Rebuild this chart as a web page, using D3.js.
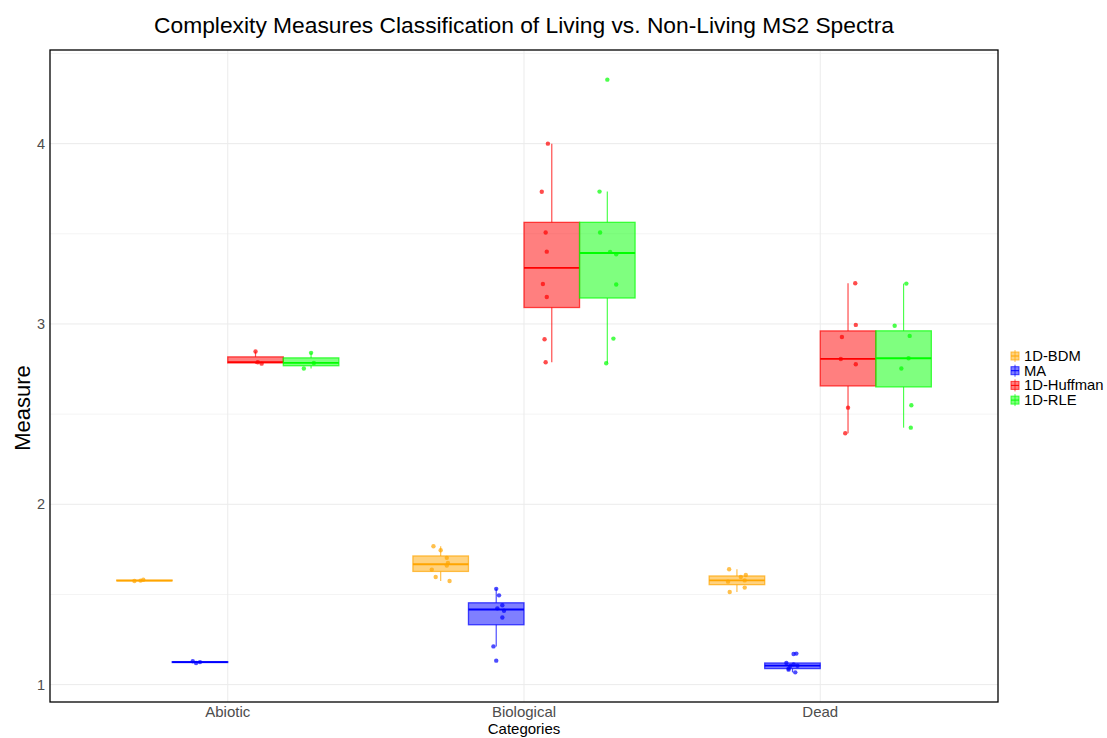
<!DOCTYPE html>
<html>
<head>
<meta charset="utf-8">
<script src="https://cdnjs.cloudflare.com/ajax/libs/d3/7.8.5/d3.min.js"></script>
<style>
	body { margin: 0; background: #fff; }
	svg { font-family: 'Liberation Sans', Arial, sans-serif; }
</style>
</head>
<body>
<script>
// DATA
const categories = ['Abiotic', 'Biological', 'Dead'];
const measures = ['1D-BDM', 'MA', '1D-Huffman', '1D-RLE'];
const colors = ['#FFA500', '#0000FF', '#FF0000', '#00FF00'];
const yTicks = [1, 2, 3, 4];

// one inner array per category
const bdmValues = [
	[1.575, 1.577, 1.582],
	[1.767, 1.745, 1.703, 1.675, 1.66, 1.638, 1.597, 1.575],
	[1.64, 1.608, 1.597, 1.578, 1.571, 1.538, 1.514]
];
const maValues = [
	[1.13, 1.12, 1.125],
	[1.531, 1.495, 1.44, 1.423, 1.41, 1.372, 1.212, 1.133],
	[1.172, 1.17, 1.12, 1.112, 1.105, 1.103, 1.089, 1.083, 1.068]
];
const huffmanValues = [
	[2.847, 2.788, 2.78],
	[4.0, 3.733, 3.507, 3.401, 3.222, 3.15, 2.915, 2.788],
	[3.226, 2.995, 2.928, 2.806, 2.777, 2.536, 2.394]
];
const rleValues = [
	[2.84, 2.784, 2.753],
	[4.355, 3.734, 3.507, 3.4, 3.387, 3.219, 2.919, 2.782],
	[3.224, 2.99, 2.934, 2.81, 2.753, 2.549, 2.425]
];

// jitter of each point, as a fraction of box width
const bdmJitter = [
	[-0.18, -0.07, -0.02],
	[-0.13, 0, 0.11, 0.13, 0.11, -0.16, -0.09, 0.16],
	[-0.14, 0.16, 0.07, 0.14, -0.16, 0.14, -0.13]
];
const maJitter = [
	[-0.13, -0.07, 0],
	[0, 0.05, 0.11, 0.02, 0.14, 0.11, -0.05, 0],
	[0.07, 0.02, -0.11, 0.02, 0.09, -0.04, -0.07, -0.07, 0.05]
];
const huffmanJitter = [
	[0, 0.04, 0.11],
	[-0.07, -0.18, -0.11, -0.09, -0.16, -0.09, -0.13, -0.11],
	[0.13, 0.14, -0.11, -0.13, 0.14, 0, -0.05]
];
const rleJitter = [
	[0, 0.05, -0.13],
	[0, -0.14, -0.13, 0.05, 0.16, 0.16, 0.11, -0.02],
	[0.05, -0.16, 0.11, 0.09, -0.04, 0.14, 0.13]
];

const allValues = [bdmValues, maValues, huffmanValues, rleValues];
const allJitter = [bdmJitter, maJitter, huffmanJitter, rleJitter];

// CONFIGURATION
const title = 'Complexity Measures Classification of Living vs. Non-Living MS2 Spectra';
const width = 1107;
const height = 738;
const margin = { top: 50, right: 109, bottom: 36, left: 50 };
const dodge = 0.75;
const boxW = dodge / measures.length;

const flat = allValues.flat(2);
const ext = d3.extent(flat);
const pad = (ext[1] - ext[0]) * 0.05;

const xScale = d3.scaleLinear()
	.domain([0.4, categories.length + 0.6])
	.range([margin.left, width - margin.right]);
const yScale = d3.scaleLinear()
	.domain([ext[0] - pad, ext[1] + pad])
	.range([height - margin.bottom, margin.top]);

const svg = d3.select('body')
	.append('svg')
	.attr('width', width)
	.attr('height', height);

// GRID
const grid = svg.append('g');
const minor = d3.range(0.5, 5, 1).filter(function(v) {
	return v > yScale.domain()[0] && v < yScale.domain()[1];
});
grid.selectAll('.minor')
	.data(minor)
	.enter()
	.append('line')
	.attr('x1', margin.left)
	.attr('x2', width - margin.right)
	.attr('y1', function(d) { return yScale(d); })
	.attr('y2', function(d) { return yScale(d); })
	.attr('stroke', '#f4f4f4')
	.attr('stroke-width', 1);
grid.selectAll('.major')
	.data(yTicks)
	.enter()
	.append('line')
	.attr('x1', margin.left)
	.attr('x2', width - margin.right)
	.attr('y1', function(d) { return yScale(d); })
	.attr('y2', function(d) { return yScale(d); })
	.attr('stroke', '#ebebeb')
	.attr('stroke-width', 1);
grid.selectAll('.vmajor')
	.data(categories)
	.enter()
	.append('line')
	.attr('x1', function(d, i) { return xScale(i + 1); })
	.attr('x2', function(d, i) { return xScale(i + 1); })
	.attr('y1', margin.top)
	.attr('y2', height - margin.bottom)
	.attr('stroke', '#ebebeb')
	.attr('stroke-width', 1);

// BOXES
const plot = svg.append('g');
allValues.forEach(function(series, m) {
	const color = colors[m];
	series.forEach(function(vals, c) {
		const sorted = vals.slice().sort(d3.ascending);
		const q1 = d3.quantile(sorted, 0.25);
		const med = d3.quantile(sorted, 0.5);
		const q3 = d3.quantile(sorted, 0.75);
		const iqr = q3 - q1;
		const lo = d3.min(sorted.filter(function(v) { return v >= q1 - 1.5 * iqr; }));
		const hi = d3.max(sorted.filter(function(v) { return v <= q3 + 1.5 * iqr; }));
		const center = c + 1 + (m - (measures.length - 1) / 2) * boxW;
		const x0 = xScale(center - boxW / 2);
		const x1 = xScale(center + boxW / 2);
		const xc = xScale(center);
		const g = plot.append('g');

		g.append('line')
			.attr('x1', xc).attr('x2', xc)
			.attr('y1', yScale(hi)).attr('y2', yScale(q3))
			.attr('stroke', color).attr('stroke-opacity', 0.7).attr('stroke-width', 1.2);
		g.append('line')
			.attr('x1', xc).attr('x2', xc)
			.attr('y1', yScale(q1)).attr('y2', yScale(lo))
			.attr('stroke', color).attr('stroke-opacity', 0.7).attr('stroke-width', 1.2);
		g.append('rect')
			.attr('x', x0)
			.attr('y', yScale(q3))
			.attr('width', x1 - x0)
			.attr('height', Math.max(yScale(q1) - yScale(q3), 0.5))
			.attr('fill', color)
			.attr('fill-opacity', 0.5)
			.attr('stroke', color)
			.attr('stroke-opacity', 0.7)
			.attr('stroke-width', 1.3);
		g.append('line')
			.attr('x1', x0).attr('x2', x1)
			.attr('y1', yScale(med)).attr('y2', yScale(med))
			.attr('stroke', color).attr('stroke-width', 1.8);

		g.selectAll('circle')
			.data(vals)
			.enter()
			.append('circle')
			.attr('cx', function(d, i) {
				return xScale(center + allJitter[m][c][i] * boxW);
			})
			.attr('cy', function(d) { return yScale(d); })
			.attr('r', 2.2)
			.attr('fill', color)
			.attr('fill-opacity', 0.7);
	});
});

// PANEL BORDER
svg.append('rect')
	.attr('x', margin.left)
	.attr('y', margin.top)
	.attr('width', width - margin.left - margin.right)
	.attr('height', height - margin.top - margin.bottom)
	.attr('fill', 'none')
	.attr('stroke', '#000')
	.attr('stroke-width', 1.3);

// AXES
svg.selectAll('.ytick')
	.data(yTicks)
	.enter()
	.append('text')
	.attr('x', margin.left - 5)
	.attr('y', function(d) { return yScale(d) + 5; })
	.attr('text-anchor', 'end')
	.attr('font-size', 14.5)
	.attr('fill', '#4d4d4d')
	.text(function(d) { return d; });
svg.selectAll('.xtick')
	.data(categories)
	.enter()
	.append('text')
	.attr('x', function(d, i) { return xScale(i + 1); })
	.attr('y', 717)
	.attr('text-anchor', 'middle')
	.attr('font-size', 15)
	.attr('fill', '#4d4d4d')
	.text(function(d) { return d; });

// TITLES
svg.append('text')
	.attr('x', (margin.left + width - margin.right) / 2)
	.attr('y', 33)
	.attr('text-anchor', 'middle')
	.attr('font-size', 22.8)
	.attr('fill', '#000')
	.text(title);
svg.append('text')
	.attr('x', (margin.left + width - margin.right) / 2)
	.attr('y', 734)
	.attr('text-anchor', 'middle')
	.attr('font-size', 15)
	.attr('fill', '#000')
	.text('Categories');
svg.append('text')
	.attr('transform', 'translate(30, 408) rotate(-90)')
	.attr('text-anchor', 'middle')
	.attr('font-size', 22)
	.attr('fill', '#000')
	.text('Measure');

// LEGEND
const legend = svg.append('g')
	.attr('transform', 'translate(1010, 356)');
measures.forEach(function(name, i) {
	const y = i * 14.7;
	legend.append('line')
		.attr('x1', 5).attr('x2', 5)
		.attr('y1', y - 6).attr('y2', y + 6)
		.attr('stroke', colors[i]).attr('stroke-opacity', 0.7);
	legend.append('rect')
		.attr('x', 1).attr('y', y - 4)
		.attr('width', 8).attr('height', 8)
		.attr('fill', colors[i]).attr('fill-opacity', 0.5)
		.attr('stroke', colors[i]).attr('stroke-opacity', 0.7);
	legend.append('line')
		.attr('x1', 1).attr('x2', 9)
		.attr('y1', y).attr('y2', y)
		.attr('stroke', colors[i]);
	legend.append('text')
		.attr('x', 14)
		.attr('y', y + 5)
		.attr('font-size', 14.8)
		.attr('fill', '#000')
		.text(name);
});
</script>
</body>
</html>
